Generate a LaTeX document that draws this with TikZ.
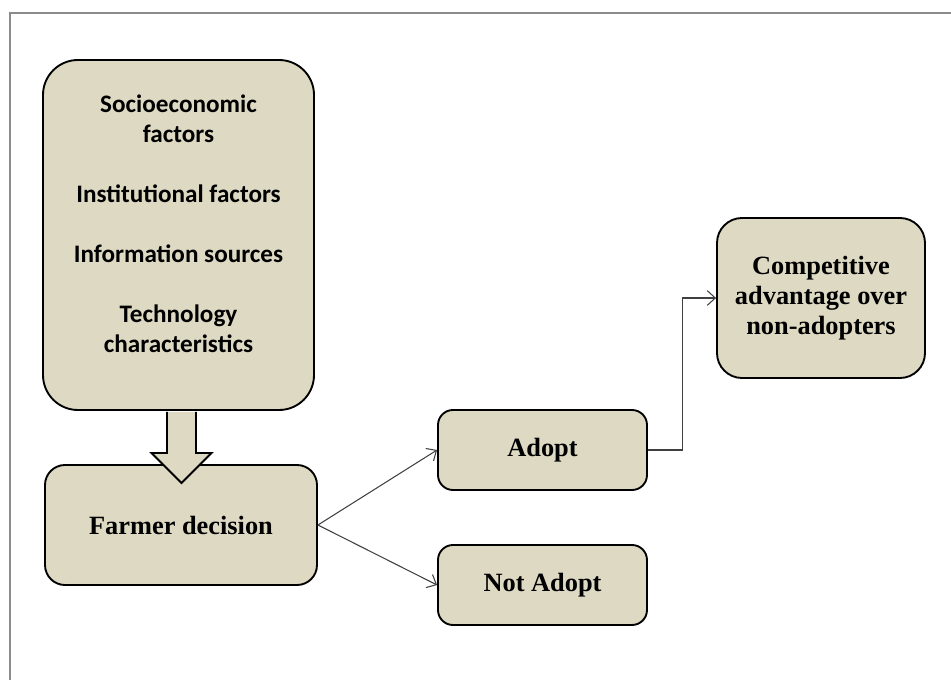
\documentclass[tikz,border=0pt]{standalone}
\usepackage{fontspec}
\usetikzlibrary{arrows.meta,positioning,calc}
\setmainfont{Liberation Serif}
\newfontfamily\boxsans{Carlito}
\definecolor{Khaki}{HTML}{DDD9C3}
\definecolor{Frame}{HTML}{8C8C8C}
\definecolor{Wire}{HTML}{404040}

\tikzset{
  box/.style={draw=black,line width=1.6pt,fill=Khaki,align=center,inner sep=2pt,
    font=\bfseries\fontsize{22.5}{25.6}\selectfont},
  wire/.style={Wire,line width=0.9pt,-{Straight Barb[length=2.4mm,width=4.4mm]}},
  blockarrow/.style={draw=black,line width=1.6pt,fill=Khaki,line join=miter},
}

\begin{document}
\begin{tikzpicture}[x=0.3mm,y=-0.3mm]
\useasboundingbox (0,0) rectangle (951,680);
% frame
\draw[Frame,line width=2.2pt] (10,680) -- (10,13) -- (951,13);
% boxes
\node[box,rounded corners=10.5mm,minimum width=81.3mm,minimum height=105mm,
  font=\boxsans\bfseries\fontsize{21.5}{25.6}\selectfont] (factors) at (178.5,235)
  {Socioeconomic\\factors\\[9mm]Institutional factors\\[9mm]Information sources\\[9mm]Technology\\characteristics\\[-2.4mm]\mbox{}};
\node[box,rounded corners=6mm,minimum width=81.6mm,minimum height=36mm] (farmer) at (181,525) {Farmer decision};
\node[box,rounded corners=4.5mm,minimum width=62.7mm,minimum height=24mm] (adopt) at (542.5,450) {Adopt};
\node[box,rounded corners=4.5mm,minimum width=62.7mm,minimum height=24mm] (notadopt) at (542.5,585) {Not Adopt};
\node[box,rounded corners=7.5mm,minimum width=62.4mm,minimum height=48mm] (compet) at (821,298)
  {Competitive\\advantage over\\non-adopters};
% block arrow
\draw[blockarrow] ($(factors.south)+(-11.5,1)$) -- ++(0,41) -- ++(-15.5,0) -- ++(30,30)
  -- ++(30,-30) -- ++(-15.5,0) -- ++(0,-41);
% connectors
\draw[wire] (farmer.east) -- (adopt.west);
\draw[wire] (farmer.east) -- (notadopt.west);
\draw[wire] (adopt.east) -- ++(35,0) |- (compet.west);
\end{tikzpicture}
\end{document}
